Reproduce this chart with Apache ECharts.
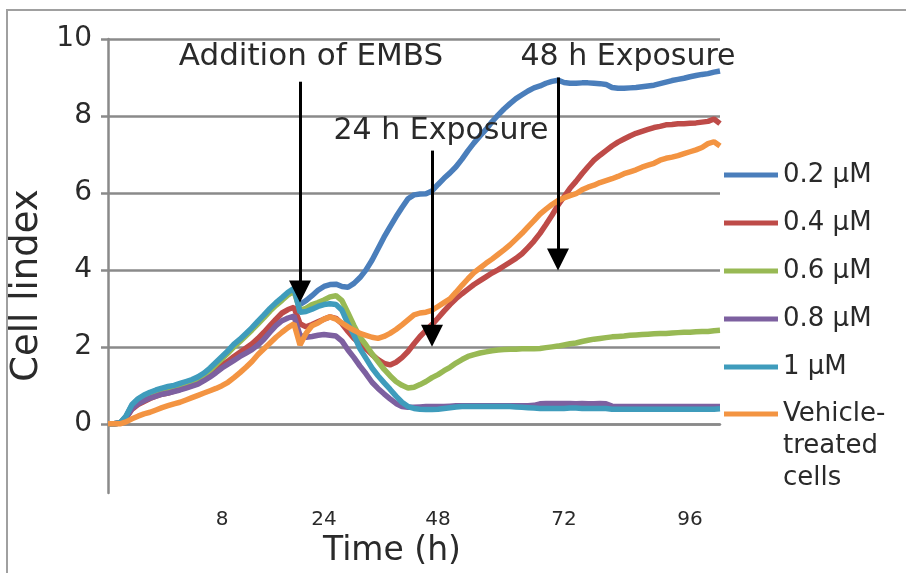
<!DOCTYPE html>
<html>
<head>
<meta charset="utf-8">
<script src="https://cdn.jsdelivr.net/npm/echarts@6/dist/echarts.min.js"></script>
<style>
  html, body { margin: 0; padding: 0; background: #fff; }
  #chart { width: 906px; height: 573px; }
</style>
</head>
<body>
<div id="chart"></div>
<script>
// Cell index traces, one value per measurement sweep
const seriesNames = ['0.2 µM', '0.4 µM', '0.6 µM', '0.8 µM', '1 µM', 'Vehicle-treated cells'];

const conc02 = [
  0, 0, 0.02, 0.19, 0.48, 0.63, 0.73, 0.8, 0.86, 0.91, 0.95, 0.98,
  1.03, 1.08, 1.13, 1.2, 1.3, 1.42, 1.57, 1.72, 1.87, 2.03, 2.17, 2.32,
  2.47, 2.63, 2.8, 2.96, 3.1, 3.24, 3.38, 3.48, 3.1, 3.2, 3.33, 3.47,
  3.57, 3.62, 3.63, 3.57, 3.55, 3.65, 3.8, 4.0, 4.25, 4.55, 4.85, 5.12,
  5.38, 5.62, 5.85, 5.95, 5.97, 5.98, 6.05, 6.22, 6.38, 6.52, 6.68, 6.88,
  7.1, 7.3, 7.48, 7.65, 7.85, 8.02, 8.18, 8.32, 8.45, 8.55, 8.65, 8.73,
  8.78, 8.85, 8.9, 8.93, 8.87, 8.85, 8.85, 8.86, 8.86, 8.85, 8.84, 8.82,
  8.74, 8.72, 8.72, 8.73, 8.74, 8.76, 8.78, 8.8, 8.84, 8.88, 8.92, 8.95,
  8.98, 9.02, 9.05, 9.08, 9.1, 9.14, 9.17
];

const conc04 = [
  0, 0, 0.02, 0.15, 0.38, 0.5, 0.58, 0.66, 0.72, 0.77, 0.8, 0.85,
  0.9, 0.95, 1.0, 1.06, 1.15, 1.27, 1.4, 1.52, 1.63, 1.75, 1.86, 1.97,
  2.08, 2.22, 2.38, 2.55, 2.72, 2.88, 2.97, 3.03, 2.6, 2.52, 2.58, 2.65,
  2.72, 2.78, 2.74, 2.6, 2.4, 2.22, 2.08, 1.95, 1.8, 1.67, 1.57, 1.53,
  1.6, 1.72, 1.88, 2.08, 2.27, 2.43, 2.58, 2.75, 2.93, 3.1, 3.25, 3.38,
  3.5, 3.62, 3.72, 3.82, 3.92, 4.0, 4.1, 4.2, 4.3, 4.42, 4.58, 4.75,
  4.95, 5.18, 5.42, 5.68, 5.9, 6.12, 6.3, 6.5, 6.68, 6.85, 6.98, 7.1,
  7.22, 7.32, 7.4, 7.48, 7.55, 7.6, 7.65, 7.7, 7.73, 7.77, 7.78, 7.8,
  7.8, 7.81, 7.82, 7.84, 7.86, 7.92, 7.8
];

const conc06 = [
  0, 0, 0.02, 0.18, 0.46, 0.6, 0.7, 0.77, 0.83, 0.88, 0.92, 0.95,
  1.0, 1.04, 1.09, 1.16, 1.26, 1.39, 1.54, 1.69, 1.84, 2.0, 2.14, 2.29,
  2.44, 2.6, 2.76, 2.93, 3.08, 3.21, 3.35, 3.45, 2.95, 3.0, 3.1, 3.15,
  3.22, 3.3, 3.33, 3.2, 2.88, 2.55, 2.25, 2.05, 1.82, 1.62, 1.42, 1.25,
  1.1, 1.0, 0.93, 0.95, 1.02, 1.1, 1.2, 1.28, 1.38, 1.47, 1.58, 1.67,
  1.75, 1.8, 1.84, 1.87, 1.9, 1.92, 1.93, 1.94, 1.94, 1.95, 1.95, 1.95,
  1.96, 1.98, 2.0, 2.02, 2.05, 2.08, 2.1, 2.14, 2.17, 2.2, 2.22, 2.24,
  2.26, 2.27, 2.28, 2.3, 2.31, 2.32, 2.33, 2.34, 2.35, 2.35, 2.36, 2.37,
  2.38, 2.38, 2.39, 2.4, 2.4, 2.42, 2.43
];

const conc08 = [
  0, 0, 0.02, 0.15, 0.4, 0.52, 0.6, 0.67, 0.72, 0.77, 0.8, 0.84,
  0.88, 0.93, 0.98, 1.03, 1.12, 1.22, 1.33, 1.45, 1.55, 1.65, 1.75, 1.84,
  1.93, 2.05, 2.2, 2.38, 2.55, 2.68, 2.75, 2.8, 2.3, 2.25, 2.27, 2.3,
  2.32, 2.3, 2.28, 2.15, 1.92, 1.72, 1.5, 1.3, 1.08, 0.92, 0.78, 0.65,
  0.53, 0.45, 0.43, 0.43, 0.44, 0.45, 0.45, 0.45, 0.45, 0.46, 0.47, 0.47,
  0.47, 0.47, 0.47, 0.47, 0.47, 0.47, 0.47, 0.47, 0.47, 0.47, 0.47, 0.48,
  0.52, 0.53, 0.53, 0.53, 0.53, 0.53, 0.52, 0.53, 0.52, 0.52, 0.53, 0.52,
  0.46, 0.45, 0.45, 0.45, 0.45, 0.45, 0.45, 0.45, 0.45, 0.45, 0.45, 0.45,
  0.45, 0.45, 0.45, 0.45, 0.45, 0.45, 0.45
];

const conc10 = [
  0, 0, 0.02, 0.2, 0.5, 0.65, 0.75, 0.82, 0.88, 0.93, 0.97, 1.0,
  1.05, 1.1, 1.15, 1.22, 1.32, 1.45, 1.6, 1.75, 1.9, 2.07, 2.2, 2.35,
  2.5, 2.67, 2.83, 3.0, 3.15, 3.28, 3.42, 3.52, 2.9, 2.92, 2.98, 3.05,
  3.1, 3.12, 3.1, 2.95, 2.6, 2.3, 1.95, 1.7, 1.45, 1.25, 1.07, 0.9,
  0.72, 0.56, 0.45, 0.4, 0.38, 0.37, 0.37, 0.38, 0.4, 0.42, 0.44, 0.45,
  0.45, 0.45, 0.45, 0.45, 0.45, 0.45, 0.45, 0.45, 0.44, 0.43, 0.42, 0.41,
  0.4, 0.4, 0.4, 0.4, 0.4, 0.41, 0.41, 0.4, 0.4, 0.4, 0.4, 0.4,
  0.38, 0.38, 0.38, 0.38, 0.38, 0.38, 0.38, 0.38, 0.38, 0.38, 0.38, 0.38,
  0.38, 0.38, 0.38, 0.38, 0.38, 0.38, 0.39
];

const vehicle = [
  0, 0, 0, 0.05, 0.13, 0.2, 0.26, 0.3, 0.36, 0.42, 0.47, 0.52,
  0.56, 0.62, 0.68, 0.74, 0.8, 0.86, 0.92, 0.99, 1.08, 1.2, 1.33, 1.47,
  1.62, 1.8, 1.95, 2.1, 2.25, 2.38, 2.5, 2.6, 2.05, 2.35, 2.55, 2.62,
  2.72, 2.78, 2.72, 2.62, 2.52, 2.43, 2.35, 2.3, 2.25, 2.22, 2.27, 2.35,
  2.45, 2.57, 2.7, 2.83, 2.88, 2.9, 2.95, 3.05, 3.15, 3.25, 3.42, 3.6,
  3.77, 3.93, 4.05, 4.17, 4.28, 4.4, 4.52, 4.65, 4.8, 4.95, 5.12, 5.28,
  5.45, 5.58, 5.7, 5.8, 5.87, 5.93, 5.98, 6.08, 6.15, 6.2, 6.27, 6.32,
  6.37, 6.43, 6.5, 6.55, 6.6, 6.67, 6.72, 6.77, 6.85, 6.9, 6.93, 6.97,
  7.02, 7.07, 7.12, 7.18, 7.28, 7.33, 7.22
];

// Sweep indices that carry an hour label, and those labels
const tickSweeps = [19, 36, 55, 76, 97];
const tickLabels = ['8', '24', '48', '72', '96'];

// Cell index gridline values
const yTicks = [0, 2, 4, 6, 8, 10];

// Event arrows: sweep index, start and end cell index
const arrowSweeps = [32, 54, 75];
const arrowFrom = [8.89, 7.1, 9.0];
const arrowTo = [3.44, 2.29, 4.27];

const sweeps = conc02.map((_, i) => String(i));
const allSeries = [conc02, conc04, conc06, conc08, conc10, vehicle];
const palette = ['#4A7EBB', '#BE4B48', '#98B954', '#7D60A0', '#3F9CBC', '#F39442'];

const FONT = 'DejaVu Sans';
const TEXT = '#2a2a2a';
const GRID = '#8a8a8a';

const chart = echarts.init(document.getElementById('chart'), null, { renderer: 'canvas' });

const series = allSeries.map((vals, k) => ({
  name: seriesNames[k],
  type: 'line',
  data: vals,
  symbol: 'none',
  showSymbol: false,
  smooth: false,
  lineStyle: { width: 5.5, color: palette[k] },
  itemStyle: { color: palette[k] },
  emphasis: { disabled: true },
  z: 3 + k
}));

series[0].markLine = {
  silent: true,
  symbol: ['none', 'triangle'],
  symbolSize: 22,
  lineStyle: { color: '#000', width: 3, type: 'solid' },
  itemStyle: { color: '#000' },
  label: { show: false },
  emphasis: { disabled: true },
  z: 20,
  data: arrowSweeps.map((s, i) => [
    { coord: [s, arrowFrom[i]] },
    { coord: [s, arrowTo[i]] }
  ])
};

const option = {
  animation: false,
  backgroundColor: '#fff',
  color: palette,
  grid: { left: 108, right: 186, top: 39, bottom: 75, containLabel: false },
  xAxis: {
    type: 'category',
    data: sweeps,
    boundaryGap: false,
    name: 'Time (h)',
    nameLocation: 'middle',
    nameGap: 34,
    nameTextStyle: { fontFamily: FONT, fontSize: 33, color: TEXT, padding: [0, 44, 0, 0] },
    axisLine: { show: true, lineStyle: { color: GRID, width: 2.5 } },
    axisTick: { show: false },
    splitLine: { show: false },
    axisLabel: {
      interval: (idx) => tickSweeps.includes(idx),
      formatter: (val, idx) => tickLabels[tickSweeps.indexOf(idx)] || '',
      fontFamily: FONT, fontSize: 20, color: TEXT, margin: 17
    }
  },
  yAxis: {
    type: 'value',
    min: -1.8,
    max: 10,
    name: 'Cell lindex',
    nameLocation: 'middle',
    nameGap: 48,
    nameTextStyle: { fontFamily: FONT, fontSize: 37, color: TEXT, padding: [0, 39, 0, 0] },
    axisLine: { show: true, lineStyle: { color: GRID, width: 2.5 } },
    axisTick: { show: true, length: 7, customValues: yTicks, lineStyle: { color: GRID, width: 2.5 } },
    axisLabel: { customValues: yTicks, fontFamily: FONT, fontSize: 28, color: TEXT, margin: 16 },
    splitLine: { show: true, lineStyle: { color: GRID, width: 2.5 } }
  },
  legend: [
    {
      data: seriesNames.slice(0, 5),
      orient: 'vertical',
      left: 724,
      top: 160,
      padding: 0,
      icon: 'rect',
      itemWidth: 54,
      itemHeight: 5,
      itemGap: 18,
      selectedMode: false,
      textStyle: { fontFamily: FONT, fontSize: 26, lineHeight: 30, color: TEXT }
    },
    {
      data: [seriesNames[5]],
      orient: 'vertical',
      left: 724,
      top: 334,
      padding: 0,
      icon: 'rect',
      itemWidth: 54,
      itemHeight: 5,
      selectedMode: false,
      // two leading empty lines keep the swatch level with the first line
      formatter: () => '\n\nVehicle-\ntreated\ncells',
      textStyle: { fontFamily: FONT, fontSize: 26, lineHeight: 32, color: TEXT }
    }
  ],
  graphic: [
    {
      type: 'rect',
      shape: { x: 7, y: 10, width: 1000, height: 1000 },
      style: { fill: null, stroke: '#a0a0a0', lineWidth: 2 },
      silent: true
    },
    {
      type: 'text', x: 311, y: 57,
      style: { text: 'Addition of EMBS', font: '31px "DejaVu Sans"', fill: TEXT, textAlign: 'center', textVerticalAlign: 'middle' },
      z: 30
    },
    {
      type: 'text', x: 441, y: 131,
      style: { text: '24 h Exposure', font: '30px "DejaVu Sans"', fill: TEXT, textAlign: 'center', textVerticalAlign: 'middle' },
      z: 30
    },
    {
      type: 'text', x: 628, y: 57,
      style: { text: '48 h Exposure', font: '30px "DejaVu Sans"', fill: TEXT, textAlign: 'center', textVerticalAlign: 'middle' },
      z: 30
    }
  ],
  series
};

chart.setOption(option);
</script>
</body>
</html>
